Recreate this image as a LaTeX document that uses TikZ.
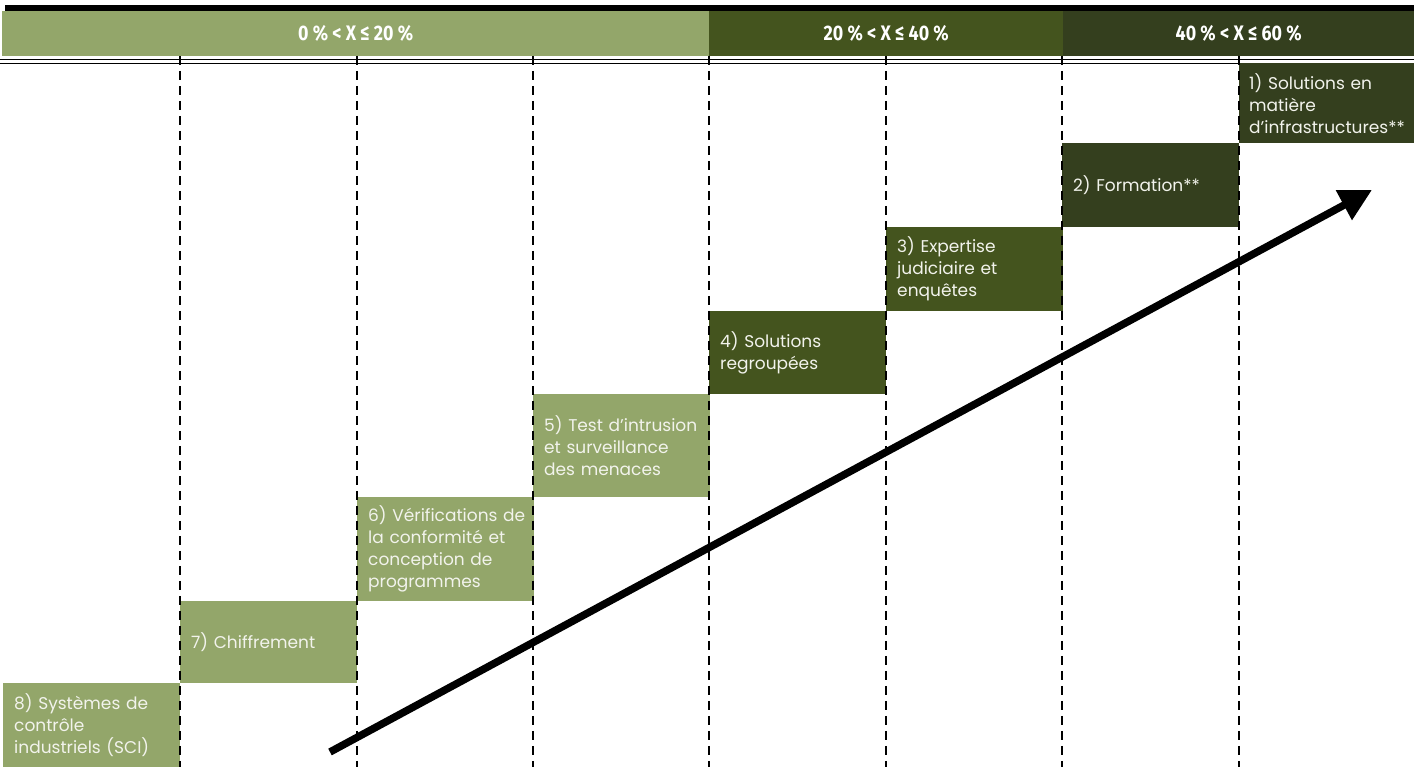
\documentclass[tikz,border=0pt]{standalone}
\usepackage{fontspec}
\setmainfont{Poppins}
\newfontfamily\headfont[FakeStretch=0.85]{Fira Sans}
\usetikzlibrary{arrows.meta}

\definecolor{lightolive}{HTML}{93A66A}
\definecolor{midolive}{HTML}{44541E}
\definecolor{darkolive}{HTML}{343F1E}
\definecolor{boxtext}{HTML}{F2F3EC}

\tikzset{
  band/.style={rectangle, inner sep=0pt, anchor=north west, minimum height=45pt,
    text=white, font=\headfont\bfseries\fontsize{21}{24}\selectfont},
  stepbox/.style={rectangle, inner sep=0pt, anchor=north west, minimum width=177pt,
    text width=155pt, align=left, text=boxtext, font=\fontsize{17}{22}\selectfont},
  gridline/.style={line width=2.4pt, dash pattern=on 9pt off 6pt},
  trend/.style={line width=7.5pt, -{Triangle[length=32pt,width=32pt]}}
}

\begin{document}
\begin{tikzpicture}[x=1pt,y=1pt]
\useasboundingbox (0,0) rectangle (1414,767);

% header bands
  \fill (5,756) rectangle (1414,762);
  \node[band, fill=lightolive, minimum width=707pt] (b1) at (2,756) {0 \% < X ≤ 20 \%};
  \node[band, fill=midolive, minimum width=354pt] (b2) at (709,756) {20 \% < X ≤ 40 \%};
  \node[band, fill=darkolive, minimum width=351pt] (b3) at (1063,756) {40 \% < X ≤ 60 \%};
  \draw[line width=1.8pt] (0,707.5) -- (1414,707.5);
  \draw[line width=1.8pt] (0,703.5) -- (1414,703.5);

% steps, from the top right down to the bottom left
  \node[stepbox, fill=darkolive, minimum height=80pt, minimum width=175pt] (s1) at (1239,704)
    {1) Solutions en\\matière\\\mbox{d’infrastructures**}};
  \node[stepbox, fill=darkolive, minimum height=84pt] (s2) at (1062,624) {2) Formation**};
  \node[stepbox, fill=midolive, minimum height=84pt] (s3) at (886,540)
    {3) Expertise\\judiciaire et\\enquêtes};
  \node[stepbox, fill=midolive, minimum height=83pt] (s4) at (709,456)
    {4) Solutions\\regroupées};
  \node[stepbox, fill=lightolive, minimum height=103pt] (s5) at (533,373)
    {\mbox{5) Test d’intrusion}\\et surveillance\\des menaces};
  \node[stepbox, fill=lightolive, minimum height=104pt] (s6) at (357,270)
    {\mbox{6) Vérifications de}\\la conformité et\\conception de\\programmes};
  \node[stepbox, fill=lightolive, minimum height=82pt] (s7) at (180,166) {7) Chiffrement};
  \node[stepbox, fill=lightolive, minimum height=84pt] (s8) at (3,84)
    {\mbox{8) Systèmes de}\\contrôle\\\mbox{industriels (SCI)}};

% column separators
  \foreach \x in {180,357,533,709,886,1062,1239}
    \draw[gridline] (\x,711) -- (\x,0);

% trend arrow
  \coordinate (tail) at (330,15);
  \coordinate (tip) at (1372,577);
  \draw[trend] (tail) -- (tip);

\end{tikzpicture}
\end{document}
